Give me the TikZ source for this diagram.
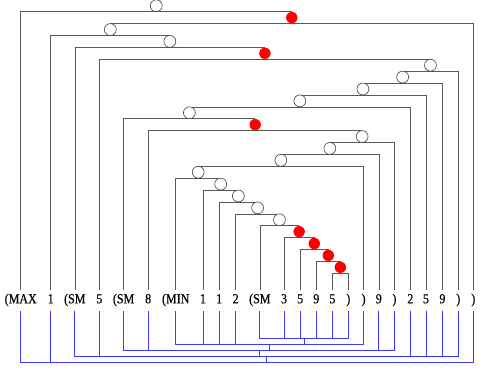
\documentclass[tikz,border=0pt]{standalone}
\usepackage{fontspec}
\setmainfont{Liberation Serif}
\newfontfamily\tokfont{Liberation Serif}[FakeBold=0.5]
\usetikzlibrary{calc}
\newcommand\tokstretch[1]{\scalebox{1}[1.15]{#1}}
\begin{document}
\begin{tikzpicture}[x=1pt,y=-1pt,
  gline/.style={draw=black!65,line width=0.6pt,line cap=rect},
  bline/.style={draw={rgb,255:red,60;green,60;blue,255},line width=0.7pt,line cap=rect},
  tok/.style={font=\tokfont\fontsize{12}{14}\selectfont,anchor=base,inner xsep=1pt,inner ysep=4.5pt,text height=9.3pt,text depth=3pt},
  ocirc/.style={circle,draw=black!75,fill=white,line width=0.6pt,minimum size=11.9pt,inner sep=0pt},
  rcirc/.style={circle,fill=red,draw=none,minimum size=11.4pt,inner sep=0pt}]
\useasboundingbox (0,0) rectangle (480,369);

% tokens
\node[tok] (t1)  at (20.7,303.3)  {\tokstretch{(MAX}};
\node[tok] (t2)  at (50.7,303.3)  {\tokstretch{1}};
\node[tok] (t3)  at (74.8,303.3)  {\tokstretch{(SM}};
\node[tok] (t4)  at (99.3,303.3)  {\tokstretch{5}};
\node[tok] (t5)  at (123.6,303.3) {\tokstretch{(SM}};
\node[tok] (t6)  at (148.2,303.3) {\tokstretch{8}};
\node[tok] (t7)  at (175.7,303.3) {\tokstretch{(MIN}};
\node[tok] (t8)  at (203.0,303.3) {\tokstretch{1}};
\node[tok] (t9)  at (219.2,303.3) {\tokstretch{1}};
\node[tok] (t10) at (235.7,303.3) {\tokstretch{2}};
\node[tok] (t11) at (259.8,303.3) {\tokstretch{(SM}};
\node[tok] (t12) at (284.0,303.3) {\tokstretch{3}};
\node[tok] (t13) at (300.2,303.3) {\tokstretch{5}};
\node[tok] (t14) at (316.3,303.3) {\tokstretch{9}};
\node[tok] (t15) at (332.4,303.3) {\tokstretch{5}};
\node[tok] (t16) at (348.3,303.3) {\tokstretch{)}};
\node[tok] (t17) at (363.6,303.3) {\tokstretch{)}};
\node[tok] (t18) at (378.8,303.3) {\tokstretch{9}};
\node[tok] (t19) at (394.4,303.3) {\tokstretch{)}};
\node[tok] (t20) at (410.3,303.3) {\tokstretch{2}};
\node[tok] (t21) at (426.0,303.3) {\tokstretch{5}};
\node[tok] (t22) at (442.4,303.3) {\tokstretch{9}};
\node[tok] (t23) at (458.3,303.3) {\tokstretch{)}};
\node[tok] (t24) at (473.3,303.3) {\tokstretch{)}};

% levels of the upper tree
\foreach \k in {1,...,23}
  \coordinate (L\k) at (0,{11.7+(\k-1)*11.89});

% bar midpoints, bottom-up
\foreach \k/\l/\r in {23/t15/t16,22/t14/b23,21/t13/b22,20/t12/b21,19/t11/b20,
    18/t10/b19,17/t9/b18,16/t8/b17,15/t7/b16,14/b15/t17,13/b14/t18,12/b13/t19,
    11/t6/b12,10/t5/b11,9/b10/t20,8/b9/t21,7/b8/t22,6/b7/t23,5/t4/b6,4/t3/b5,
    3/t2/b4,2/b3/t24,1/t1/b2}{
  \coordinate (b\k) at ($(\l |- L\k)!.5!(\r |- L\k)$);
  \draw[gline] (\l |- L\k) -- (\r |- L\k);
}

% token stems up to their bars
\foreach \i/\k in {1/1,2/3,3/4,4/5,5/10,6/11,7/15,8/16,9/17,10/18,11/19,12/20,
    13/21,14/22,15/23,16/23,17/14,18/13,19/12,20/9,21/8,22/7,23/6,24/2}
  \draw[gline] (t\i.north) -- (t\i.north |- L\k);

% tree nodes
\foreach \k in {1,3,4,6,7,8,9,10,12,13,14,15,16,17,18,19}
  \node[ocirc] (c\k) at ([yshift=5.95pt]b\k) {};
\foreach \k in {2,5,11,20,21,22,23}
  \node[rcirc] (c\k) at ([yshift=5.95pt]b\k) {};

% lower bracket levels
\coordinate (B1) at (0,338.3);
\coordinate (B2) at (0,344.3);
\coordinate (B3) at (0,350.2);
\coordinate (B4) at (0,356.2);
\coordinate (B5) at (0,362.2);

\foreach \i/\j in {11/1,12/1,13/1,14/1,15/1,16/1,
    7/2,8/2,9/2,10/2,17/2,
    5/3,6/3,18/3,19/3,
    3/4,4/4,20/4,21/4,22/4,23/4,
    1/5,2/5,24/5}
  \draw[bline] (t\i.south) -- (t\i.south |- B\j);

\foreach \a/\b/\j in {11/16/1,7/17/2,5/19/3,3/23/4,1/24/5}
  \draw[bline] (t\a |- B\j) -- (t\b |- B\j);
\foreach \a/\b/\j/\p in {11/16/1/2,7/17/2/3,5/19/3/4,3/23/4/5}{
  \coordinate (m\j) at ($(t\a |- B\j)!.5!(t\b |- B\j)$);
  \draw[bline] (m\j) -- (m\j |- B\p);
}
\end{tikzpicture}
\end{document}
